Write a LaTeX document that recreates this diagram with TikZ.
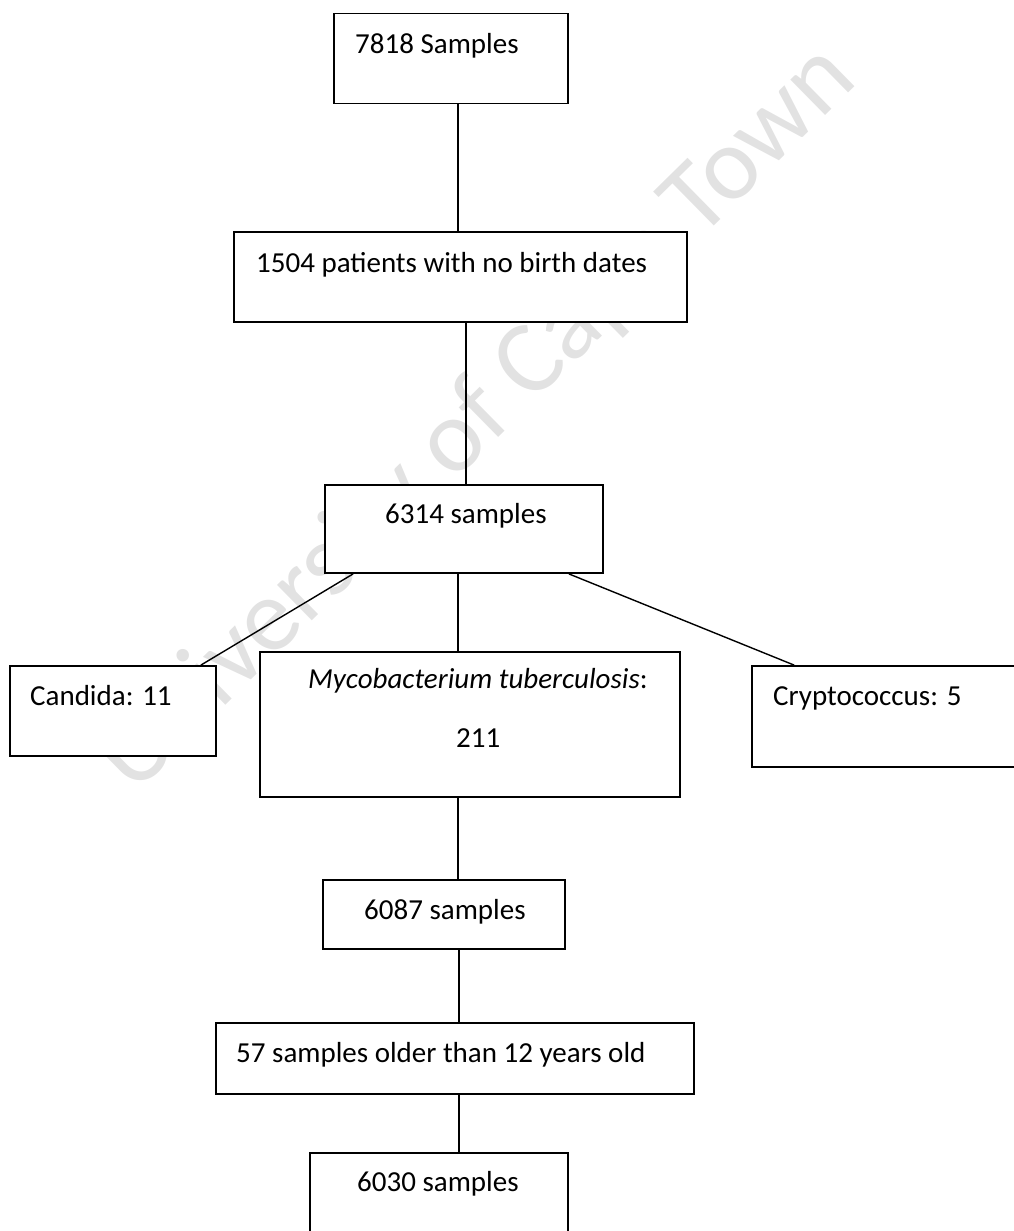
\documentclass[tikz,border=0pt]{standalone}
\usepackage{fontspec}
\setmainfont{Carlito}
\definecolor{wmgray}{HTML}{E2E2E2}

\begin{document}
\begin{tikzpicture}[x=1pt,y=-1pt,
    box/.style={draw,fill=white,line width=1.8pt,inner sep=0pt},
    txt/.style={anchor=base west,inner sep=0pt,font=\fontsize{29}{35}\selectfont},
    link/.style={line width=1.4pt}]
    \useasboundingbox (0,0) rectangle (1013,1231);

    % Watermark behind everything
    \node [wmgray,rotate=44.5,anchor=base,inner sep=0pt,font=\fontsize{104}{120}\selectfont] (wm) at (497,439) {University of Cape Town};

    % Boxes: name/centre x/centre y/width/height
    \foreach \name/\x/\y/\w/\h in {
    s7818/451/58.5/234/90,
    s1504/460.5/277/453/90,
    s6314/464/529/278/88,
    candida/113/711/206/90,
    mtb/470/724.5/420/145,
    crypto/891/716.5/278/101,
    s6087/444/914.5/242/69,
    s57/455/1058.5/478/71,
    s6030/439/1206.5/258/107} {
    \node [box,minimum width=\w,minimum height=\h] (\name) at (\x,\y) {};
    }

    % Texts in the boxes
    \node [txt] (t7818) at (355,53) {7818 Samples};
    \node [txt] (t1504) at (256,272) {1504 patients with no birth dates};
    \node [txt] (t6314) at (385,523) {6314 samples};
    \node [txt] (tcandida) at (30,705) {Candida: 11};
    \node [txt] (tmtb) at (308,688) {\textit{Mycobacterium tuberculosis}:};
    \node [txt] (tmtbn) at (456,747) {211};
    \node [txt] (tcrypto) at (773,705) {Cryptococcus: 5};
    \node [txt] (t6087) at (364,919) {6087 samples};
    \node [txt] (t57) at (236,1062) {57 samples older than 12 years old};
    \node [txt] (t6030) at (357,1191) {6030 samples};

    % Connectors
    \draw [link] ([xshift=7pt]s7818.south) -- ([xshift=7pt]s7818.south |- s1504.north);
    \draw [link] ([xshift=5.5pt]s1504.south) -- ([xshift=5.5pt]s1504.south |- s6314.north);
    \draw [link] ([xshift=29pt]s6314.south west) -- ([xshift=-16pt]candida.north east);
    \draw [link] ([xshift=-6pt]s6314.south) -- ([xshift=-6pt]s6314.south |- mtb.north);
    \draw [link] ([xshift=-35pt]s6314.south east) -- ([xshift=43pt]crypto.north west);
    \draw [link] ([xshift=-12pt]mtb.south) -- ([xshift=-12pt]mtb.south |- s6087.north);
    \draw [link] ([xshift=15pt]s6087.south) -- ([xshift=15pt]s6087.south |- s57.north);
    \draw [link] ([xshift=4pt]s57.south) -- ([xshift=4pt]s57.south |- s6030.north);

\end{tikzpicture}
\end{document}
